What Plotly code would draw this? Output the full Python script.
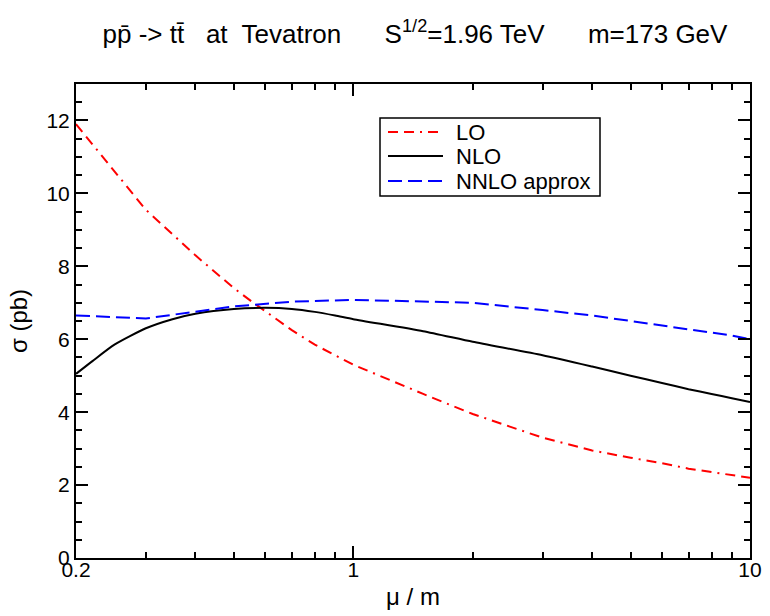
import plotly.graph_objects as go

# mu/m values and cross sections (pb)
lo_x = [0.2, 0.25, 0.3, 0.4, 0.5, 0.56, 0.7, 0.8, 0.9, 1.0, 1.5, 2.0, 3.0, 4.0, 5.0, 6.0, 7.0, 8.0, 9.0, 10.0]
lo_y = [11.9, 10.6, 9.55, 8.3, 7.4, 7.0, 6.25, 5.85, 5.55, 5.3, 4.5, 3.95, 3.3, 2.95, 2.75, 2.6, 2.45, 2.35, 2.27, 2.2]

nlo_x = [0.2, 0.22, 0.25, 0.3, 0.35, 0.4, 0.5, 0.6, 0.7, 0.8, 0.9, 1.0, 1.5, 2.0, 3.0, 4.0, 5.0, 6.0, 7.0, 8.0, 9.0, 10.0]
nlo_y = [5.05, 5.4, 5.85, 6.3, 6.55, 6.7, 6.83, 6.86, 6.83, 6.75, 6.65, 6.55, 6.22, 5.93, 5.56, 5.25, 5.0, 4.8, 4.63, 4.5, 4.38, 4.28]

nnlo_x = [0.2, 0.3, 0.5, 0.7, 1.0, 2.0, 3.0, 4.0, 5.0, 6.0, 7.0, 8.0, 9.0, 10.0]
nnlo_y = [6.65, 6.57, 6.9, 7.03, 7.08, 7.0, 6.8, 6.65, 6.5, 6.38, 6.28, 6.18, 6.1, 6.0]

series_names = ["LO", "NLO", "NNLO approx"]

x_tickvals = [0.2, 1, 10]
x_ticktext = ["0.2", "1", "10"]
x_minor = [0.3, 0.4, 0.5, 0.6, 0.7, 0.8, 0.9, 2, 3, 4, 5, 6, 7, 8, 9]
y_tickvals = [0, 2, 4, 6, 8, 10, 12]

FONT = "Liberation Sans, Arial, sans-serif"
W, H = 770, 616
ML, MR, MT, MB = 76, 20, 84, 58
PW, PH = W - ML - MR, H - MT - MB

styles = [
    dict(color="#ff0000", width=2, dash="10px,6px,10px,6px,2px,6px"),
    dict(color="#000000", width=2),
    dict(color="#0000ff", width=2, dash="14px,6px"),
]


def xp(px):
    return (px - ML) / PW


def yp(py):
    return (H - MB - py) / PH


fig = go.Figure()
fig.add_trace(go.Scatter(x=lo_x, y=lo_y, mode="lines", name=series_names[0], line=styles[0]))
fig.add_trace(go.Scatter(x=nlo_x, y=nlo_y, mode="lines", name=series_names[1],
                         line=dict(styles[1], shape="spline", smoothing=0.6)))
fig.add_trace(go.Scatter(x=nnlo_x, y=nnlo_y, mode="lines", name=series_names[2], line=styles[2]))

# legend box drawn like the original (tight rows)
shapes = [dict(type="rect", xref="paper", yref="paper",
               x0=xp(380), x1=xp(600), y0=yp(196), y1=yp(118),
               line=dict(color="black", width=1.5), fillcolor="white", layer="above")]
annotations = []
row_y = [132, 156, 181]
for name, st, ry in zip(series_names, styles, row_y):
    shapes.append(dict(type="line", xref="paper", yref="paper",
                       x0=xp(388), x1=xp(443), y0=yp(ry), y1=yp(ry),
                       line=st, layer="above"))
    annotations.append(dict(text=name, xref="paper", yref="paper",
                            x=xp(454), y=yp(ry), xanchor="left", yanchor="middle",
                            showarrow=False, font=dict(family=FONT, size=22, color="black")))

fig.update_layout(
    width=W, height=H,
    margin=dict(l=ML, r=MR, t=MT, b=MB),
    paper_bgcolor="white", plot_bgcolor="white",
    font=dict(family=FONT, size=20, color="black"),
    title=dict(text="pp\u0304 -> tt\u0304   at  Tevatron      S<sup>1/2</sup>=1.96 TeV      m=173 GeV",
               x=415 / W, xanchor="center", y=0.945, yanchor="middle",
               font=dict(family=FONT, size=26, color="black")),
    showlegend=False,
    shapes=shapes,
    annotations=annotations,
)

fig.update_xaxes(type="log", range=[-0.69897, 1.0], showgrid=False, zeroline=False,
                 showline=True, linecolor="black", linewidth=2, mirror="allticks",
                 ticks="inside", ticklen=12, tickwidth=1.5, tickcolor="black",
                 tickmode="array", tickvals=x_tickvals, ticktext=x_ticktext,
                 tickfont=dict(family=FONT, size=21), ticklabelstandoff=-8,
                 automargin=False,
                 minor=dict(tickmode="array", tickvals=x_minor, ticks="inside", ticklen=6,
                            tickwidth=1.5, tickcolor="black", showgrid=False),
                 title=dict(text="\u03bc / m", font=dict(family=FONT, size=24), standoff=8))
fig.update_yaxes(range=[0, 13], showgrid=False, zeroline=False,
                 showline=True, linecolor="black", linewidth=2, mirror="allticks",
                 ticks="inside", ticklen=12, tickwidth=1.5, tickcolor="black",
                 tickmode="array", tickvals=y_tickvals,
                 tickfont=dict(family=FONT, size=21), automargin=False,
                 minor=dict(dtick=0.5, ticks="inside", ticklen=6, tickwidth=1.5,
                            tickcolor="black", showgrid=False),
                 title=dict(text="\u03c3 (pb)", font=dict(family=FONT, size=24), standoff=12))

fig.write_html("out.html")
